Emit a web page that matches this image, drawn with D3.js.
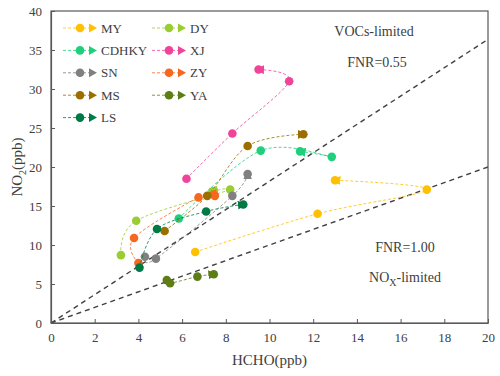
<!DOCTYPE html>
<html>
<head>
<meta charset="utf-8">
<script src="https://cdn.jsdelivr.net/npm/d3@7"></script>
<style>
  body { margin: 0; background: #fff; }
  svg text { font-family: "Liberation Serif", "Times New Roman", serif !important; }
</style>
</head>
<body>
<div id="chart"></div>
<script>
const width = 500,
    height = 376;

// site names and colours
const sites = ["MY", "DY", "CDHKY", "XJ", "SN", "ZY", "MS", "YA", "LS"];
const colors = ["#FFC000", "#9ACD32", "#1ED07C", "#F0449A", "#808080", "#F7671F", "#9A6F00", "#5E7D17", "#007A45"];

// HCHO (x) and NO2 (y) per site, in time order (last point gets the arrow)
const hcho = [
    [6.6, 12.2, 17.2, 13.0],
    [3.2, 3.9, 8.2, 7.4],
    [5.85, 9.6, 12.85, 11.4],
    [6.2, 8.3, 10.9, 9.5],
    [4.3, 4.8, 8.3, 9.0],
    [4.0, 3.8, 6.75, 7.5],
    [5.2, 7.15, 9.0, 11.55],
    [5.3, 5.45, 6.7, 7.45],
    [4.05, 4.85, 7.1, 8.8]
];
const no2 = [
    [9.1, 14.0, 17.1, 18.3],
    [8.7, 13.1, 17.1, 16.9],
    [13.4, 22.1, 21.3, 22.0],
    [18.5, 24.3, 31.0, 32.5],
    [8.5, 8.25, 16.3, 19.1],
    [7.7, 10.9, 16.1, 16.3],
    [11.8, 16.3, 22.7, 24.2],
    [5.5, 5.1, 5.95, 6.25],
    [7.1, 12.05, 14.3, 15.2]
];

// FNR reference lines: NO2 = HCHO / FNR
const fnrValues = [0.55, 1.00];

const xTicks = [0, 2, 4, 6, 8, 10, 12, 14, 16, 18, 20];
const yTicks = [0, 5, 10, 15, 20, 25, 30, 35, 40];

const margin = { top: 11, right: 12, bottom: 53, left: 51 };

const svg = d3.select("#chart")
    .append("svg")
    .attr("width", width)
    .attr("height", height);

const x = d3.scaleLinear().domain([0, 20]).range([margin.left, width - margin.right]);
const y = d3.scaleLinear().domain([0, 40]).range([height - margin.bottom, margin.top]);

const defs = svg.append("defs");
colors.forEach((c, i) => {
    defs.append("marker")
        .attr("id", "arrow" + i)
        .attr("viewBox", "0 0 10 10")
        .attr("refX", 6)
        .attr("refY", 5)
        .attr("markerUnits", "userSpaceOnUse")
        .attr("markerWidth", 9)
        .attr("markerHeight", 9)
        .attr("orient", "auto")
        .append("path")
        .attr("d", "M0,0 L10,5 L0,10 Z")
        .attr("fill", c);
});

// FNR lines
fnrValues.forEach(f => {
    svg.append("line")
        .attr("x1", x(0)).attr("y1", y(0))
        .attr("x2", x(20)).attr("y2", y(20 / f))
        .attr("stroke", "#404040")
        .attr("stroke-width", 1.4)
        .attr("stroke-dasharray", "5,4");
});

// series
const line = d3.line()
    .x(d => x(d[0]))
    .y(d => y(d[1]))
    .curve(d3.curveCardinal.tension(0));

sites.forEach((s, i) => {
    const pts = hcho[i].map((h, j) => [h, no2[i][j]]);
    svg.append("path")
        .attr("d", line(pts))
        .attr("fill", "none")
        .attr("stroke", colors[i])
        .attr("stroke-opacity", 0.8)
        .attr("stroke-width", 1)
        .attr("stroke-dasharray", "3,2")
        .attr("marker-end", `url(#arrow${i})`);

    svg.selectAll(".pt" + i)
        .data(pts)
        .enter()
        .append("circle")
        .attr("cx", d => x(d[0]))
        .attr("cy", d => y(d[1]))
        .attr("r", 4.3)
        .attr("fill", colors[i]);
});

// frame
svg.append("rect")
    .attr("x", x(0)).attr("y", y(40))
    .attr("width", x(20) - x(0))
    .attr("height", y(0) - y(40))
    .attr("fill", "none")
    .attr("stroke", "#595959")
    .attr("stroke-width", 1.2);

// axes (ticks inside)
const xAxis = svg.append("g")
    .attr("transform", `translate(0,${y(0)})`)
    .call(d3.axisBottom(x).tickValues(xTicks).tickSizeInner(-4).tickSizeOuter(0).tickPadding(10));
const yAxis = svg.append("g")
    .attr("transform", `translate(${x(0)},0)`)
    .call(d3.axisLeft(y).tickValues(yTicks).tickSizeInner(-4).tickSizeOuter(0).tickPadding(9));

[xAxis, yAxis].forEach(a => {
    a.attr("font-family", "'Liberation Serif', serif");
    a.select(".domain").attr("stroke", "#595959").attr("stroke-width", 1.2);
    a.selectAll(".tick line").attr("stroke", "#595959");
    a.selectAll(".tick text")
        .attr("fill", "#404040")
        .style("font-size", "13px");
});

// axis titles
svg.append("text")
    .attr("x", (x(0) + x(20)) / 2)
    .attr("y", 365)
    .attr("text-anchor", "middle")
    .attr("fill", "#404040")
    .style("font-size", "15px")
    .text("HCHO(ppb)");

const yTitle = svg.append("text")
    .attr("transform", `translate(22,${(y(0) + y(40)) / 2}) rotate(-90)`)
    .attr("text-anchor", "middle")
    .attr("fill", "#404040")
    .style("font-size", "15px");
yTitle.append("tspan").text("NO");
yTitle.append("tspan").attr("dy", 4).style("font-size", "10px").text("2");
yTitle.append("tspan").attr("dy", -4).text("(ppb)");

// annotations
const noteStyle = t => t.attr("fill", "#404040").attr("text-anchor", "middle").style("font-size", "14px");
svg.append("text").attr("x", 374).attr("y", 36).text("VOCs-limited").call(noteStyle);
svg.append("text").attr("x", 377).attr("y", 67).text("FNR=0.55").call(noteStyle);
svg.append("text").attr("x", 405).attr("y", 252).text("FNR=1.00").call(noteStyle);
const nox = svg.append("text").attr("x", 405).attr("y", 282).call(noteStyle);
nox.append("tspan").text("NO");
nox.append("tspan").attr("dy", 4).style("font-size", "10px").text("X");
nox.append("tspan").attr("dy", -4).text("-limited");

// legend
const legendOrder = ["MY", "DY", "CDHKY", "XJ", "SN", "ZY", "MS", "YA", "LS"];
const legend = svg.append("g");
legendOrder.forEach((name, k) => {
    const i = sites.indexOf(name);
    const col = k % 2, row = Math.floor(k / 2);
    const lx = 63 + col * 89, ly = 28 + row * 22.4;
    const g = legend.append("g").attr("transform", `translate(${lx},${ly})`);
    g.append("line")
        .attr("x1", 0).attr("x2", 27).attr("y1", 0).attr("y2", 0)
        .attr("stroke", colors[i])
        .attr("stroke-opacity", 0.8)
        .attr("stroke-dasharray", "3,2");
    g.append("circle").attr("cx", 17).attr("cy", 0).attr("r", 4.3).attr("fill", colors[i]);
    g.append("path").attr("d", "M26,-4.5 L34,0 L26,4.5 Z").attr("fill", colors[i]);
    g.append("text")
        .attr("x", 38).attr("y", 4.5)
        .attr("fill", "#404040")
        .style("font-size", "13px")
        .text(name);
});
</script>
</body>
</html>
